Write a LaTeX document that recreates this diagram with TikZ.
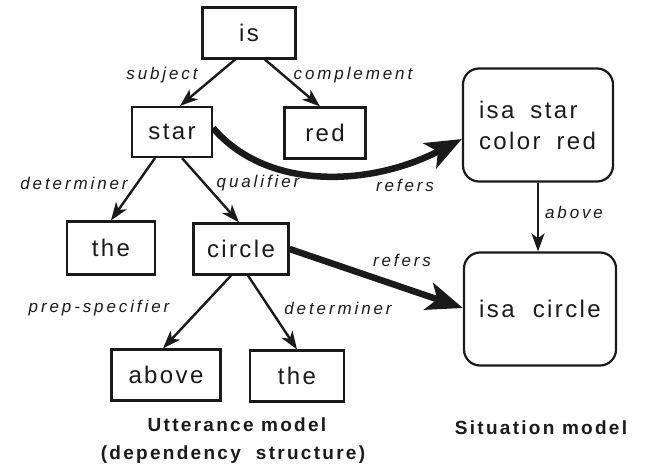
\documentclass[tikz,border=0pt]{standalone}
\usepackage{fontspec}
\usetikzlibrary{arrows.meta,calc}
\newfontfamily\nodefont[LetterSpace=10]{Liberation Sans}
\newfontfamily\labfont[LetterSpace=17]{Liberation Sans}
\newfontfamily\titfont[LetterSpace=12]{Liberation Sans}
\definecolor{ink}{HTML}{1A1A1A}
\tikzset{
  wbox/.style={draw=ink, line width=2.2pt, inner sep=0pt, font=\nodefont\fontsize{24}{31}\selectfont, text=ink},
  rbox/.style={wbox, rounded corners=16pt},
  lab/.style={font=\labfont\itshape\fontsize{17}{20}\selectfont, text=ink, inner sep=0pt},
  tit/.style={font=\titfont\bfseries\fontsize{19}{22}\selectfont, text=ink, inner sep=0pt},
  arr/.style={draw=ink, line width=2.4pt, -{Stealth[length=18pt,width=13pt,inset=5pt]}},
  bigarr/.style={draw=ink, line width=6.5pt, -{Stealth[length=36pt,width=28pt,inset=9pt]}}
}
\begin{document}
\begin{tikzpicture}[x=1pt,y=-1pt]
\path[use as bounding box, fill=white] (0,0) rectangle (647,463);
% utterance nodes
\node[wbox, minimum width=93pt, minimum height=51pt] (is) at (249,33) {is};
\node[wbox, minimum width=80pt, minimum height=50pt] (star) at (172,132) {star};
\node[wbox, minimum width=81pt, minimum height=51pt] (red) at (325,133) {red};
\node[wbox, minimum width=88pt, minimum height=53pt] (theA) at (111,248) {the};
\node[wbox, minimum width=95pt, minimum height=51pt] (circle) at (241,249) {circle};
\node[wbox, minimum width=109pt, minimum height=51pt] (above) at (166,375) {above};
\node[wbox, minimum width=94pt, minimum height=51pt] (theB) at (297,376) {the};
% situation nodes
\node[rbox, minimum width=150pt, minimum height=113pt, text width=118pt, inner xsep=16pt, align=left] (isastar) at (538,125) {isa\ \ star\\color\ \ red};
\node[rbox, minimum width=152pt, minimum height=113pt] (isacircle) at (540,309) {isa\ \ circle};
% thin arrows
\draw[arr] ([xshift=-14pt]is.south) -- ([xshift=8pt]star.north);
\draw[arr] ([xshift=16pt]is.south) -- ([xshift=-5pt]red.north);
\draw[arr] ([xshift=-17pt]star.south) -- (theA.north);
\draw[arr] ([xshift=10pt]star.south) -- ([xshift=-2pt]circle.north);
\draw[arr] ([xshift=-10pt]circle.south) -- ([xshift=-3pt]above.north);
\draw[arr] ([xshift=7pt]circle.south) -- (theB.north);
\draw[arr] (isastar.south) -- (isacircle.north -| isastar.south);
% thick arrows
\draw[bigarr] ([yshift=4pt]star.east) .. controls (268,192) and (372,186) .. ([yshift=-14pt]isastar.west);
\draw[bigarr] (circle.east) -- ([yshift=1pt]isacircle.west);
% labels
\node[lab] (l1) at (162,75) {subject};
\node[lab] (l2) at (353,75) {complement};
\node[lab] (l3) at (74,183) {determiner};
\node[lab] (l4) at (258,183) {qualifier};
\node[lab] (l5) at (405,185) {refers};
\node[lab] (l6) at (402,260) {refers};
\node[lab] (l7) at (99,308) {prep-specifier};
\node[lab] (l8) at (338,308) {determiner};
\node[lab] (l9) at (574,212) {above};
\node[tit] (t1) at (237,425) {Utterance model};
\node[tit] (t2) at (233,455) {(dependency\ \ structure)};
\node[tit] (t3) at (541,428) {Situation model};
\end{tikzpicture}
\end{document}
